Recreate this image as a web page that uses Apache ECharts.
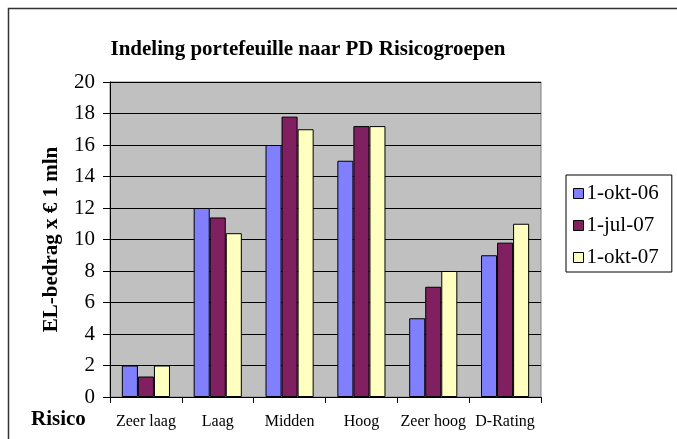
<!DOCTYPE html>
<html>
<head>
<meta charset="utf-8">
<script src="https://cdn.jsdelivr.net/npm/echarts@6/dist/echarts.min.js"></script>
<style>
  html, body { margin: 0; padding: 0; background: #fff; }
  #chartBox { width: 677px; height: 439px; }
</style>
</head>
<body>
<div id="chartBox"></div>
<script>
// categorieen en reeksen
const categories = ['Zeer laag', 'Laag', 'Midden', 'Hoog', 'Zeer hoog', 'D-Rating'];
const okt06 = [2, 12, 16, 15, 5, 9];
const jul07 = [1.3, 11.4, 17.8, 17.2, 7, 9.8];
const okt07 = [2, 10.4, 17, 17.2, 8, 11];
const seriesNames = ['1-okt-06', '1-jul-07', '1-okt-07'];
const seriesColors = ['#8080FF', '#802060', '#FFFFC0'];

const serif = '"Liberation Serif", "DejaVu Serif", serif';

const chart = echarts.init(document.getElementById('chartBox'));

const barSeries = [okt06, jul07, okt07].map((data, i) => ({
  name: seriesNames[i],
  type: 'bar',
  data: data,
  barGap: '0%',
  barCategoryGap: '33%',
  itemStyle: {
    color: seriesColors[i],
    borderColor: '#000',
    borderWidth: 1
  }
}));

const option = {
  animation: false,
  title: {
    text: 'Indeling portefeuille naar PD Risicogroepen',
    left: 303,
    top: 34,
    textAlign: 'center',
    textStyle: {
      fontFamily: serif,
      fontSize: 21,
      fontWeight: 'bold',
      color: '#000'
    }
  },
  legend: {
    orient: 'vertical',
    left: 566,
    top: 175,
    padding: [8, 13, 4, 7],
    itemGap: 11,
    itemWidth: 10,
    itemHeight: 10,
    icon: 'rect',
    backgroundColor: '#fff',
    borderColor: '#000',
    borderWidth: 1,
    borderRadius: 0,
    itemStyle: { borderColor: '#000', borderWidth: 1 },
    textStyle: { fontFamily: serif, fontSize: 21, color: '#000', padding: [0, 0, 0, -2] },
    data: seriesNames
  },
  grid: {
    left: 110,
    right: 136,
    top: 82,
    bottom: 42,
    show: true,
    backgroundColor: '#C0C0C0',
    borderColor: '#808080',
    borderWidth: 1
  },
  xAxis: {
    type: 'category',
    data: categories,
    axisLine: { lineStyle: { color: '#000', width: 1 } },
    axisTick: { show: true, length: 6, lineStyle: { color: '#000' } },
    axisLabel: { fontFamily: serif, fontSize: 16, color: '#000', margin: 17, interval: 0 }
  },
  yAxis: {
    type: 'value',
    min: 0,
    max: 20,
    interval: 2,
    name: 'EL-bedrag x € 1 mln',
    nameLocation: 'middle',
    nameGap: 48,
    nameRotate: 90,
    nameTextStyle: { fontFamily: serif, fontSize: 21, fontWeight: 'bold', color: '#000' },
    axisLine: { show: true, lineStyle: { color: '#000', width: 1 } },
    axisTick: { show: true, length: 7, lineStyle: { color: '#000' } },
    axisLabel: { fontFamily: serif, fontSize: 21, color: '#000', margin: 15 },
    splitLine: { lineStyle: { color: '#000', width: 1 } }
  },
  graphic: [
    {
      type: 'rect',
      shape: { x: 8.5, y: 8.5, width: 720, height: 480 },
      style: { fill: 'none', stroke: '#333', lineWidth: 1.5 },
      silent: true
    },
    {
      type: 'text',
      left: 31,
      top: 409,
      style: {
        text: 'Risico',
        font: 'bold 21px ' + serif,
        fill: '#000'
      }
    }
  ],
  series: barSeries
};

chart.setOption(option);
</script>
</body>
</html>
